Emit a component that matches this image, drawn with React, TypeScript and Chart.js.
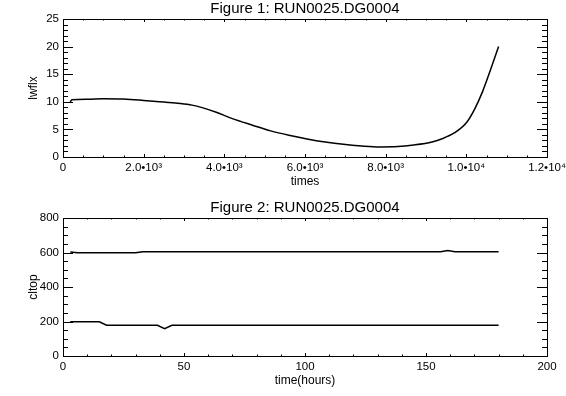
import React, { useEffect, useRef } from "react";
import { Chart, registerables } from "chart.js";

Chart.register(...registerables);

// ---- Figure 1 data (times in seconds, lwflx) ----
const lwflxTimes = [180, 220, 600, 1000, 1500, 2000, 2500, 2900, 3200, 3450, 3800, 4200, 4700, 5150, 5600, 6050, 6500, 6950, 7400, 7850, 8300, 8700, 9150, 9400, 9700, 10000, 10200, 10400, 10600, 10800];
const lwflxValues = [9.95, 10.35, 10.45, 10.55, 10.5, 10.25, 9.95, 9.7, 9.4, 8.95, 8.1, 6.95, 5.76, 4.73, 3.94, 3.28, 2.73, 2.3, 2.0, 1.82, 1.88, 2.18, 2.73, 3.3, 4.35, 6.2, 8.6, 11.8, 15.8, 20.0];

// ---- Figure 2 data (hours, cltop) ----
const cltopUpperHours = [3, 6, 30, 33, 156, 159, 162, 180];
const cltopUpperValues = [603, 598, 598, 605, 605, 612, 605, 605];
const cltopLowerHours = [3, 15, 18, 39, 42, 45, 180];
const cltopLowerValues = [198, 198, 178, 178, 158, 178, 178];

// ---- axis tick labels ----
const fig1XTickLabels: Record<number, string> = {
  0: "0",
  2000: "2.0•10³",
  4000: "4.0•10³",
  6000: "6.0•10³",
  8000: "8.0•10³",
  10000: "1.0•10⁴",
  12000: "1.2•10⁴",
};

const FONT = "'Liberation Sans', Arial, Helvetica, sans-serif";

const boxTicks = {
  id: "boxTicks",
  afterDraw(chart: any, _args: any, opts: any) {
    const { ctx, chartArea: a, scales } = chart;
    const xs = scales.x;
    const ys = scales.y;
    ctx.save();
    ctx.strokeStyle = "#000";
    ctx.lineWidth = 1;
    ctx.strokeRect(a.left + 0.5, a.top + 0.5, a.right - a.left, a.bottom - a.top);
    ctx.beginPath();
    const isMajor = (v: number, step: number) => Math.abs(v / step - Math.round(v / step)) < 1e-6;
    for (let v = xs.min; v <= xs.max + 1e-9; v += opts.xMinor) {
      const len = isMajor(v, opts.xMajor) ? opts.xLen : opts.xLen / 2;
      const px = Math.round(xs.getPixelForValue(v)) + 0.5;
      ctx.moveTo(px, a.bottom);
      ctx.lineTo(px, a.bottom - len);
      ctx.moveTo(px, a.top);
      ctx.lineTo(px, a.top + len);
    }
    for (let v = ys.min; v <= ys.max + 1e-9; v += opts.yMinor) {
      const len = isMajor(v, opts.yMajor) ? opts.yLen : opts.yLen / 2;
      const py = Math.round(ys.getPixelForValue(v)) + 0.5;
      ctx.moveTo(a.left, py);
      ctx.lineTo(a.left + len, py);
      ctx.moveTo(a.right, py);
      ctx.lineTo(a.right - len, py);
    }
    ctx.stroke();
    ctx.fillStyle = "#000";
    ctx.font = `15px ${FONT}`;
    ctx.textAlign = "center";
    ctx.textBaseline = "middle";
    ctx.fillText(opts.title, (a.left + a.right) / 2, opts.titleY);
    ctx.restore();
  },
};

function makeConfig(p: {
  datasets: any[];
  xMin: number; xMax: number; xStep: number; xMinor: number;
  yMin: number; yMax: number; yStep: number; yMinor: number;
  xTitle: string; yTitle: string; title: string;
  xCallback: (v: number) => string;
}) {
  return {
    type: "line",
    data: { datasets: p.datasets },
    plugins: [boxTicks],
    options: {
      animation: false,
      responsive: false,
      parsing: true,
      layout: { padding: { top: 19, right: 19, left: 0, bottom: 0 } },
      plugins: {
        legend: { display: false },
        tooltip: { enabled: false },
        boxTicks: {
          title: p.title,
          titleY: 9,
          xMajor: p.xStep, xMinor: p.xMinor, xLen: 3,
          yMajor: p.yStep, yMinor: p.yMinor, yLen: 10,
        },
      },
      elements: { point: { radius: 0 } },
      scales: {
        x: {
          type: "linear",
          min: p.xMin,
          max: p.xMax,
          grid: { display: false, drawTicks: false },
          border: { display: false },
          ticks: {
            stepSize: p.xStep,
            autoSkip: false,
            maxRotation: 0,
            padding: 4,
            color: "#000",
            font: { family: FONT, size: 11.5 },
            callback: (v: number) => p.xCallback(v),
          },
          title: {
            display: true,
            text: p.xTitle,
            color: "#000",
            font: { family: FONT, size: 12 },
            padding: { top: 0, bottom: 9 },
          },
          afterFit(scale: any) {
            scale.height = 41;
            scale.paddingLeft = 0;
            scale.paddingRight = 0;
          },
        },
        y: {
          type: "linear",
          min: p.yMin,
          max: p.yMax,
          grid: { display: false, drawTicks: false },
          border: { display: false },
          ticks: {
            stepSize: p.yStep,
            autoSkip: false,
            padding: 4,
            color: "#000",
            font: { family: FONT, size: 11.5 },
          },
          title: {
            display: true,
            text: p.yTitle,
            color: "#000",
            font: { family: FONT, size: 12 },
            padding: { top: 26, bottom: 0 },
          },
          afterFit(scale: any) {
            scale.width = 63;
            scale.paddingTop = 0;
            scale.paddingBottom = 0;
          },
        },
      },
    },
  };
}

function Panel({ config, top }: { config: any; top: number }) {
  const ref = useRef<HTMLCanvasElement>(null);
  useEffect(() => {
    if (!ref.current) return;
    const chart = new Chart(ref.current, config);
    return () => chart.destroy();
  }, []);
  return (
    <canvas
      ref={ref}
      width={566}
      height={198}
      style={{ position: "absolute", left: 0, top, width: 566, height: 198 }}
    />
  );
}

const lineStyle = {
  borderColor: "#000",
  borderWidth: 1.5,
  pointRadius: 0,
  fill: false,
};

export default function App() {
  const fig1 = makeConfig({
    datasets: [
      {
        ...lineStyle,
        data: lwflxTimes.map((t, i) => ({ x: t, y: lwflxValues[i] })),
        cubicInterpolationMode: "monotone",
      },
    ],
    xMin: 0, xMax: 12000, xStep: 2000, xMinor: 500,
    yMin: 0, yMax: 25, yStep: 5, yMinor: 1,
    xTitle: "times", yTitle: "lwflx", title: "Figure 1: RUN0025.DG0004",
    xCallback: (v) => fig1XTickLabels[v] ?? String(v),
  });
  const fig2 = makeConfig({
    datasets: [
      { ...lineStyle, data: cltopUpperHours.map((h, i) => ({ x: h, y: cltopUpperValues[i] })) },
      { ...lineStyle, data: cltopLowerHours.map((h, i) => ({ x: h, y: cltopLowerValues[i] })) },
    ],
    xMin: 0, xMax: 200, xStep: 50, xMinor: 10,
    yMin: 0, yMax: 800, yStep: 200, yMinor: 50,
    xTitle: "time(hours)", yTitle: "cltop", title: "Figure 2: RUN0025.DG0004",
    xCallback: (v) => String(v),
  });
  return (
    <div style={{ position: "absolute", left: 0, top: 0, width: 566, height: 396, background: "#fff" }}>
      <Panel config={fig1} top={0} />
      <Panel config={fig2} top={199} />
    </div>
  );
}
